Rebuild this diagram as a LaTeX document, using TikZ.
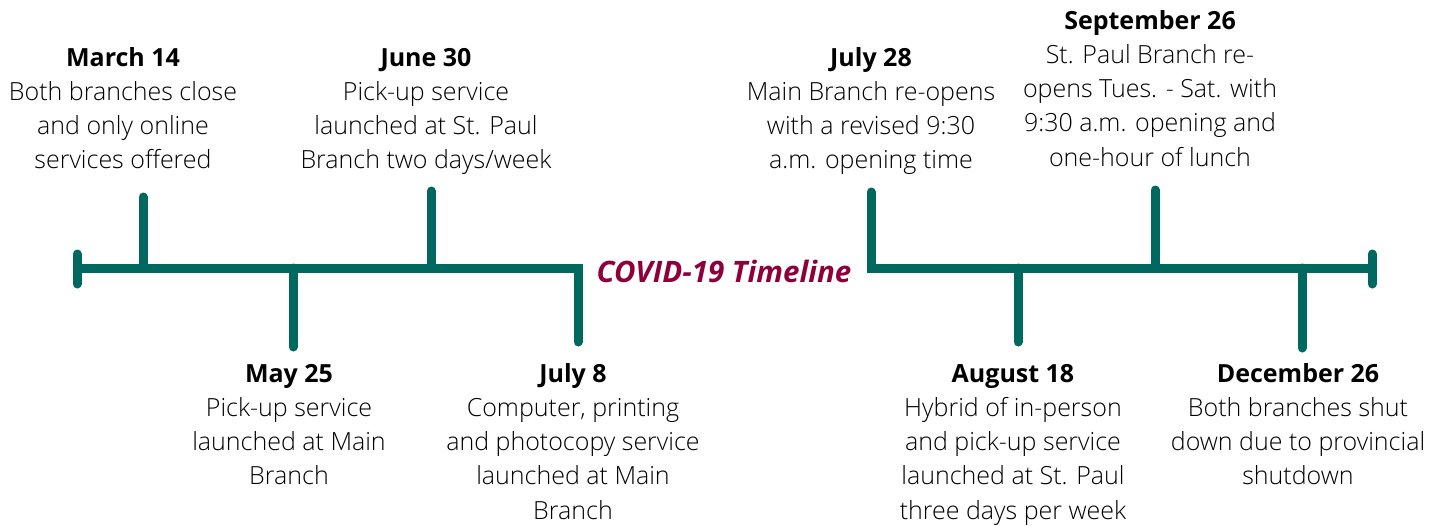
\documentclass[tikz,border=0pt]{standalone}
\usepackage{fontspec}
\setmainfont{Open Sans}
\IfFontExistsTF{Open Sans Light}{\newfontfamily\bodyfont{Open Sans Light}}{\newcommand{\bodyfont}{\mdseries}}
\definecolor{teal}{HTML}{00695F}
\definecolor{maroon}{HTML}{8E003B}
\tikzset{
  bar/.style={draw=teal, line width=9pt, line cap=round, line join=miter},
  event/.style={inner sep=0pt, anchor=base, text=black},
}
\newcommand{\evtext}[2]{\parbox[t]{300pt}{\centering\fontsize{25}{34.3}\selectfont\textbf{#1}\\{\bodyfont #2}}}
\begin{document}
\begin{tikzpicture}[x=1pt,y=-1pt]
\useasboundingbox (0,0) rectangle (1443,525);
% axis
\coordinate (L0) at (77,268);
\coordinate (L1) at (578,268);
\coordinate (L2) at (578,342);
\coordinate (R0) at (871,192);
\coordinate (R1) at (871,268);
\coordinate (R2) at (1372,268);
\draw[bar, line cap=butt] (L0) -- (L1) -- (L2);
\draw[bar] (578,300) -- (L2);
\draw[bar, line cap=butt] (R0) -- (R1) -- (R2);
\draw[bar] (R0) -- (871,230);
\draw[bar] (77,254) -- (77,284);
\draw[bar] (1372,254) -- (1372,284);
% ticks
\coordinate (t1) at (143,197);
\coordinate (t2) at (293,347);
\coordinate (t3) at (431,191);
\coordinate (t5) at (1018,342);
\coordinate (t6) at (1155,190);
\coordinate (t7) at (1302,348);
\draw[bar] (143,268) -- (t1);
\draw[bar] (293,268) -- (t2);
\draw[bar] (431,268) -- (t3);
\draw[bar] (1018,268) -- (t5);
\draw[bar] (1155,268) -- (t6);
\draw[bar] (1302,268) -- (t7);
% title
\node[inner sep=0pt, anchor=base, text=maroon, font={\fontsize{29.5}{34}\selectfont\bfseries\itshape}] (title) at (724,282) {COVID-19 Timeline};
% events
\node[event] (e1) at (123,66) {\evtext{March 14}{Both branches close\\and only online\\services offered}};
\node[event] (e2) at (289,382) {\evtext{May 25}{Pick-up service\\launched at Main\\Branch}};
\node[event] (e3) at (426,66) {\evtext{June 30}{Pick-up service\\launched at St. Paul\\Branch two days/week}};
\node[event] (e4) at (573,382) {\evtext{July 8}{Computer, printing\\and photocopy service\\launched at Main\\Branch}};
\node[event] (e5) at (871,66) {\evtext{July 28}{Main Branch re-opens\\with a revised 9:30\\a.m. opening time}};
\node[event] (e6) at (1013,382) {\evtext{August 18}{Hybrid of in-person\\and pick-up service\\launched at St. Paul\\three days per week}};
\node[event] (e7) at (1150,29) {\evtext{September 26}{St. Paul Branch re-\\opens Tues. - Sat. with\\9:30 a.m. opening and\\one-hour of lunch}};
\node[event] (e8) at (1298,382) {\evtext{December 26}{Both branches shut\\down due to provincial\\shutdown}};
\end{tikzpicture}
\end{document}
